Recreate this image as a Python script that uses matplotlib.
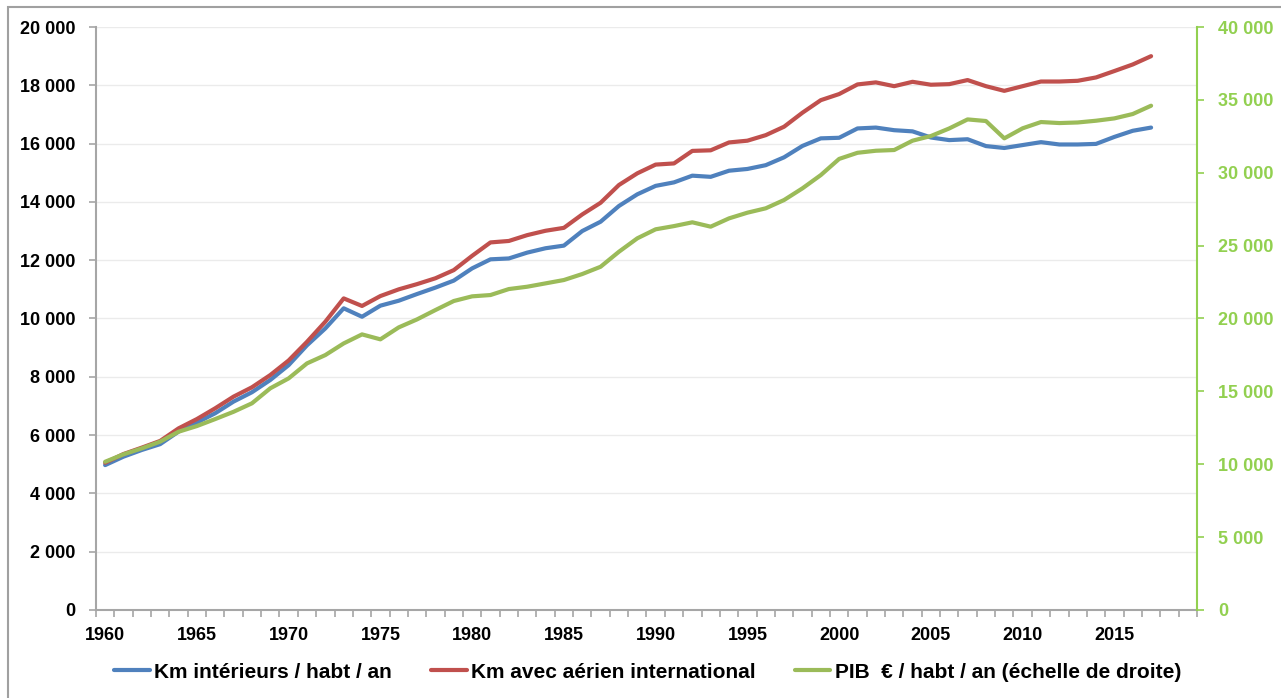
import numpy as np
import matplotlib
matplotlib.use('Agg')
from matplotlib import pyplot as plt
from matplotlib.ticker import FuncFormatter, MultipleLocator
from matplotlib.patches import Rectangle

plt.rcParams['font.family'] = ['Liberation Sans', 'DejaVu Sans']
plt.rcParams['font.weight'] = 'bold'

years = list(range(1960, 2018))

# km interieurs / habt / an (left axis)
km_int = [4970, 5260, 5490, 5690, 6120, 6430, 6750, 7150, 7470, 7890,
          8400, 9080, 9660, 10350, 10060, 10440, 10610, 10840, 11060, 11300,
          11720, 12030, 12060, 12260, 12410, 12500, 13000, 13320, 13860, 14260,
          14550, 14670, 14900, 14860, 15070, 15130, 15260, 15530, 15920, 16180,
          16200, 16520, 16550, 16460, 16420, 16210, 16120, 16150, 15915, 15850,
          15950, 16050, 15970, 15970, 15990, 16230, 16440, 16550]

# km avec aerien international (left axis)
km_air = [5050, 5350, 5570, 5800, 6230, 6550, 6920, 7320, 7640, 8060,
          8560, 9200, 9890, 10690, 10430, 10770, 11000, 11180, 11380, 11660,
          12150, 12610, 12660, 12860, 13010, 13110, 13570, 13970, 14580, 14980,
          15280, 15320, 15750, 15770, 16040, 16100, 16290, 16580, 17060, 17490,
          17700, 18030, 18100, 17970, 18120, 18020, 18040, 18180, 17970, 17810,
          17970, 18130, 18130, 18155, 18270, 18490, 18715, 19000]

# PIB euros / habt / an (right axis)
pib = [10170, 10680, 11090, 11550, 12230, 12620, 13100, 13600, 14180, 15210,
       15890, 16920, 17490, 18290, 18910, 18570, 19390, 19940, 20580, 21200,
       21520, 21610, 22020, 22180, 22410, 22640, 23050, 23550, 24580, 25500,
       26120, 26340, 26600, 26300, 26870, 27260, 27560, 28130, 28930, 29840,
       30950, 31370, 31510, 31560, 32200, 32520, 33040, 33660, 33550, 32360,
       33050, 33480, 33410, 33450, 33570, 33730, 34030, 34600]

labels = ['Km intérieurs / habt / an', 'Km avec aérien international',
          'PIB  € / habt / an (échelle de droite)']

blue = '#4F81BD'
red = '#C0504D'
green = '#9BBB59'
axis_green = '#92D050'
grey = '#A6A6A6'

def fmt(v, pos):
    return '{:,.0f}'.format(v).replace(',', ' ')

fig = plt.figure(figsize=(12.81, 6.98), dpi=100)
ax = fig.add_axes([0.0749, 0.1261, 0.8595, 0.8352])
ax2 = ax.twinx()

l1, = ax.plot(years, km_int, color=blue, lw=3, solid_capstyle='round')
l2, = ax.plot(years, km_air, color=red, lw=3, solid_capstyle='round')
l3, = ax2.plot(years, pib, color=green, lw=3, solid_capstyle='round')

ax.set_xlim(1959.5, 2019.5)
ax.set_ylim(0, 20000)
ax2.set_ylim(0, 40000)
ax.yaxis.set_major_locator(MultipleLocator(2000))
ax2.yaxis.set_major_locator(MultipleLocator(5000))
ax.yaxis.set_major_formatter(FuncFormatter(fmt))
ax2.yaxis.set_major_formatter(FuncFormatter(fmt))
ax.set_xticks(range(1960, 2020, 5))
ax.set_xticks(np.arange(1959.5, 2020, 1), minor=True)

ax.grid(axis='y', color='#EBEBEB', lw=1)
ax.set_axisbelow(True)

for a in (ax, ax2):
    a.spines['top'].set_visible(False)
ax.spines['right'].set_visible(False)
ax.spines['left'].set_color(grey)
ax.spines['bottom'].set_color(grey)
ax.spines['left'].set_linewidth(1.5)
ax.spines['bottom'].set_linewidth(1.5)
ax2.spines['left'].set_visible(False)
ax2.spines['bottom'].set_visible(False)
ax2.spines['right'].set_color(axis_green)
ax2.spines['right'].set_linewidth(1.5)

ax.tick_params(axis='x', which='major', length=0, pad=12, labelsize=13)
ax.tick_params(axis='x', which='minor', length=5, color=grey, width=1.2)
ax.tick_params(axis='y', length=5, color=grey, width=1.2, pad=10, labelsize=13)
ax2.tick_params(axis='y', length=5, color=axis_green, width=1.2, pad=10,
                labelsize=13, labelcolor=axis_green)

fig.legend([l1, l2, l3], labels, loc='center', bbox_to_anchor=(0.5055, 0.037),
           ncol=3, frameon=False, fontsize=15, handlelength=1.7,
           handletextpad=0.2, columnspacing=1.9)

fig.patches.append(Rectangle((0.0062, -0.1), 1.1, 1.09, transform=fig.transFigure,
                             fill=False, edgecolor='#A0A0A0', lw=1.5))

plt.savefig('out.png', dpi=100)
